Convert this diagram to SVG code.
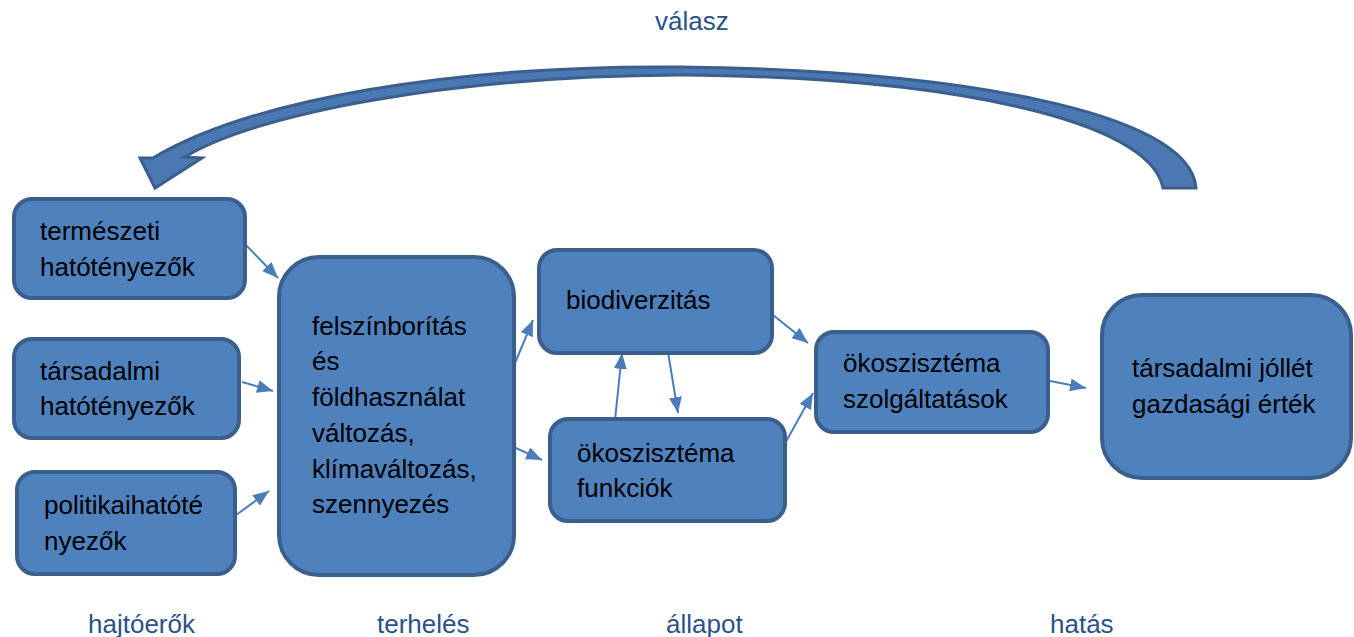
<svg xmlns="http://www.w3.org/2000/svg" width="1354" height="637" viewBox="0 0 1354 637">
<style>
.box{fill:#4F81BD;stroke:#3B5F8C;stroke-width:4}
.t{font-family:"Liberation Sans",Arial,sans-serif;font-size:26px;fill:#000}
.lbl{font-family:"Liberation Sans",Arial,sans-serif;font-size:26px;fill:#2A5289}
.c{stroke:#4A7EBB;stroke-width:2;fill:none;marker-end:url(#ah)}
</style>
<defs>
<marker id="ah" viewBox="0 0 10 10" refX="10" refY="5" markerWidth="16" markerHeight="13" markerUnits="userSpaceOnUse" orient="auto" preserveAspectRatio="none">
<path d="M0,0 L10,5 L0,10 Z" fill="#4A7EBB"/>
</marker>
</defs>
<rect width="1354" height="637" fill="#fff"/>

<g id="labels">
<text class="lbl" x="655" y="30">válasz</text>
<text class="lbl" x="88" y="633">hajtóerők</text>
<text class="lbl" x="377" y="633">terhelés</text>
<text class="lbl" x="666" y="633">állapot</text>
<text class="lbl" x="1050" y="633">hatás</text>
</g>

<g id="feedback-arrow">
<path d="M1196,188 C1190,110 950,70 680,67 C450,65 250,100 153,158 L140,158 L155,188 L202,158 L185,157 C255,114 450,76 680,75 C950,77 1150,120 1163,188 Z" fill="#4A78B2" stroke="#3B5F8C" stroke-width="3" stroke-linejoin="miter"/>
</g>

<g id="connectors">
<line class="c" x1="243" y1="242" x2="278" y2="278"/>
<line class="c" x1="242" y1="382" x2="273" y2="391"/>
<line class="c" x1="232" y1="518" x2="269" y2="491"/>
<line class="c" x1="510" y1="375" x2="533" y2="320"/>
<line class="c" x1="503" y1="442" x2="542" y2="460"/>
<line class="c" x1="615" y1="420" x2="622" y2="353"/>
<line class="c" x1="668" y1="352" x2="678" y2="413"/>
<line class="c" x1="773" y1="315" x2="808" y2="343"/>
<line class="c" x1="783" y1="447" x2="813" y2="393"/>
<line class="c" x1="1045" y1="380" x2="1086" y2="388"/>
</g>

<g id="node-termeszeti">
<rect class="box" x="14" y="199" width="231" height="99" rx="18"/>
<text class="t" x="40" y="240">természeti</text>
<text class="t" x="40" y="276">hatótényezők</text>
</g>

<g id="node-tarsadalmi">
<rect class="box" x="14" y="339" width="225" height="99" rx="18"/>
<text class="t" x="40" y="380">társadalmi</text>
<text class="t" x="40" y="415">hatótényezők</text>
</g>

<g id="node-politikai">
<rect class="box" x="17" y="472" width="218" height="102" rx="18"/>
<text class="t" x="44" y="514">politikaihatóté</text>
<text class="t" x="44" y="550">nyezők</text>
</g>

<g id="node-terheles">
<rect class="box" x="279" y="257" width="235" height="318" rx="40"/>
<text class="t" x="312" y="335">felszínborítás</text>
<text class="t" x="312" y="370">és</text>
<text class="t" x="312" y="406">földhasználat</text>
<text class="t" x="312" y="442">változás,</text>
<text class="t" x="312" y="478">klímaváltozás,</text>
<text class="t" x="312" y="513">szennyezés</text>
</g>

<g id="node-biodiverzitas">
<rect class="box" x="539" y="250" width="233" height="103" rx="18"/>
<text class="t" x="566" y="309">biodiverzitás</text>
</g>

<g id="node-funkciok">
<rect class="box" x="550" y="419" width="235" height="102" rx="18"/>
<text class="t" x="577" y="462">ökoszisztéma</text>
<text class="t" x="577" y="497">funkciók</text>
</g>

<g id="node-szolgaltatasok">
<rect class="box" x="816" y="332" width="232" height="100" rx="18"/>
<text class="t" x="843" y="372">ökoszisztéma</text>
<text class="t" x="843" y="408">szolgáltatások</text>
</g>

<g id="node-jollet">
<rect class="box" x="1102" y="295" width="249" height="183" rx="40"/>
<text class="t" x="1132" y="377">társadalmi jóllét</text>
<text class="t" x="1132" y="413">gazdasági érték</text>
</g>
</svg>
